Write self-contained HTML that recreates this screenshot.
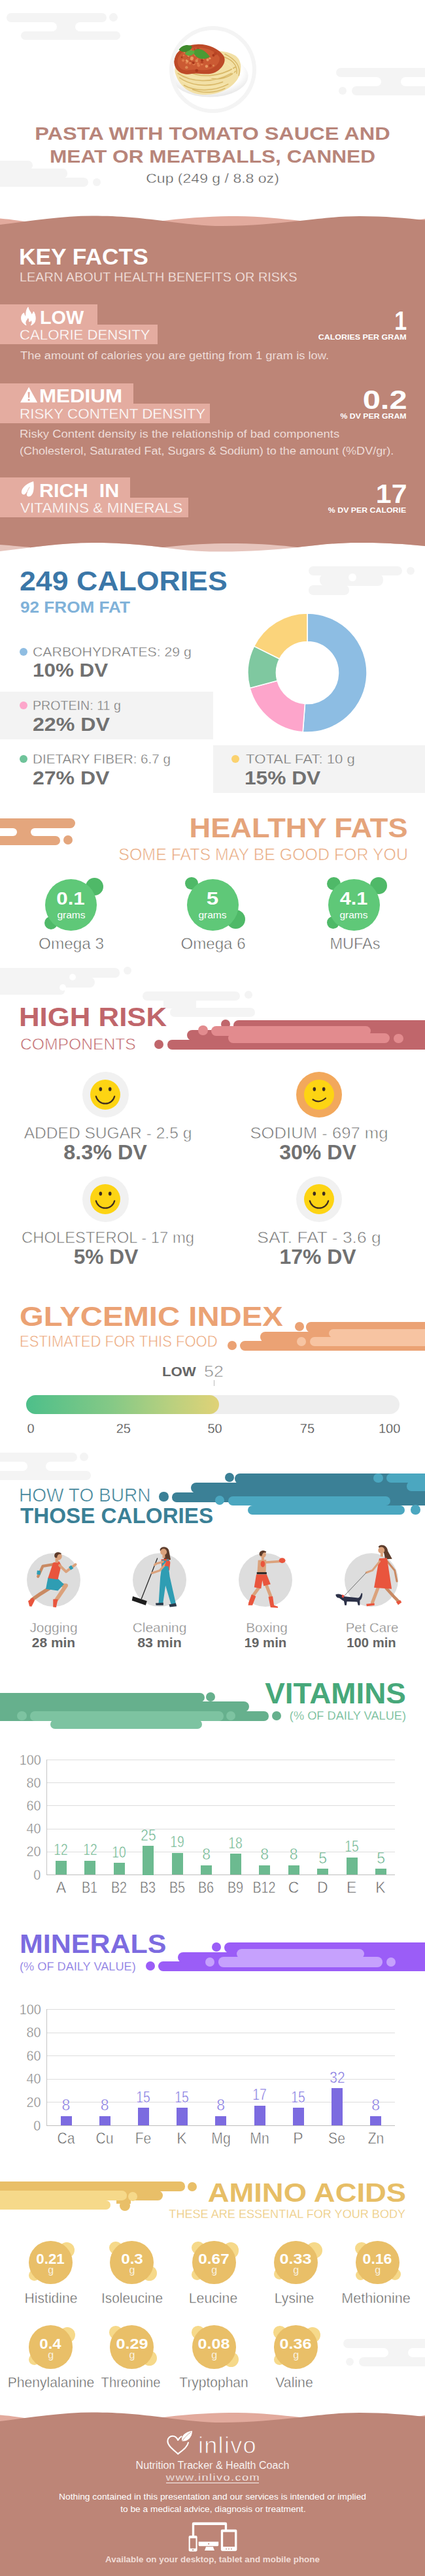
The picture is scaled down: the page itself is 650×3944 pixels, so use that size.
<!DOCTYPE html>
<html lang="en"><head><meta charset="utf-8"><title>Pasta with tomato sauce and meat or meatballs, canned</title>
<style>
html,body{margin:0;padding:0;background:#fff;}
body{width:650px;height:3944px;position:relative;overflow:hidden;font-family:"Liberation Sans",sans-serif;}
.t{position:absolute;white-space:pre;line-height:1;}
.b{position:absolute;display:block;}
svg{overflow:visible;}
</style></head><body>
<div class="b" style="left:10px;top:19.7px;width:153px;height:14px;background:#f4f4f4;border-radius:7px;"></div>
<div class="b" style="left:166.5px;top:19.7px;width:13.0px;height:13.0px;background:#f4f4f4;border-radius:50%;"></div>
<div class="b" style="left:32px;top:47.7px;width:152px;height:13.5px;background:#f4f4f4;border-radius:6.7px;"></div>
<div class="b" style="left:80px;top:29.7px;width:42px;height:22px;background:#f4f4f4;border-radius:0px;"></div>
<div class="b" style="left:0px;top:33.7px;width:87px;height:14px;background:#fff;border-radius:7px;"></div>
<div class="b" style="left:115px;top:33.7px;width:90px;height:14px;background:#fff;border-radius:7px;"></div>
<div class="b" style="left:514px;top:104px;width:150px;height:14px;background:#f4f4f4;border-radius:7px;"></div>
<div class="b" style="left:538px;top:132px;width:130px;height:14px;background:#f4f4f4;border-radius:7px;"></div>
<div class="b" style="left:576px;top:112px;width:44px;height:26px;background:#f4f4f4;border-radius:0px;"></div>
<div class="b" style="left:500px;top:118px;width:83px;height:14px;background:#fff;border-radius:7px;"></div>
<div class="b" style="left:613px;top:118px;width:60px;height:14px;background:#fff;border-radius:7px;"></div>
<div class="b" style="left:518px;top:133px;width:12px;height:12px;background:#f4f4f4;border-radius:50%;"></div>
<div class="b" style="left:-10px;top:246px;width:60px;height:14px;background:#f4f4f4;border-radius:7px;"></div>
<div class="b" style="left:-10px;top:258px;width:113px;height:15px;background:#f4f4f4;border-radius:7px;"></div>
<div class="b" style="left:-10px;top:272px;width:145px;height:14px;background:#f4f4f4;border-radius:7px;"></div>
<div class="b" style="left:142px;top:273px;width:12px;height:12px;background:#f4f4f4;border-radius:50%;"></div>
<div class="b" style="left:258.5px;top:39.8px;width:133.0px;height:133.0px;background:#f4f4f4;border-radius:50%;"></div>
<div class="b" style="left:264.5px;top:45.8px;width:121.0px;height:121.0px;background:#ffffff;border-radius:50%;"></div>
<svg class="b" style="left:255px;top:30px;" width="140" height="145" viewBox="0 0 425 440">
<defs><clipPath id="pc"><circle cx="212.500" cy="231" r="183"/></clipPath>
<radialGradient id="pl" cx="50%" cy="40%" r="60%"><stop offset="70%" stop-color="#ffffff"/><stop offset="100%" stop-color="#e6e6e6"/></radialGradient></defs>
<g clip-path="url(#pc)">
<ellipse cx="200" cy="262" rx="178" ry="98" fill="url(#pl)"/>
<path d="M40 250 C30 215 60 175 110 160 C170 140 260 135 315 165 C350 185 352 235 330 275 C300 325 230 355 160 348 C95 342 55 300 40 250Z" fill="#f2e0a6"/>
<path d="M60 270 C100 300 180 320 260 290 M52 250 C110 290 210 300 300 250 M80 305 C130 335 220 335 285 300 M100 240 C150 270 240 270 320 220 M250 170 C300 180 330 210 325 250 M270 160 C320 185 345 215 335 260 M120 325 C170 345 230 340 270 320 M200 270 C240 285 290 270 320 240" stroke="#d8b766" stroke-width="4.500" fill="none" stroke-linecap="round"/>
<path d="M70 285 C120 315 200 325 270 300 M60 240 C120 285 220 285 310 235 M230 185 C280 195 315 220 310 255" stroke="#f7e6ad" stroke-width="4" fill="none" stroke-linecap="round"/>
<path d="M34 195 C36 150 80 118 140 115 C190 112 240 135 262 165 C280 190 262 225 225 245 C190 262 150 245 115 252 C80 260 36 245 34 195Z" fill="#bd4a28"/>
<path d="M50 190 C55 155 95 130 140 130 C185 128 230 150 245 175 C250 200 225 225 195 232 C160 240 130 228 100 235 C70 240 48 220 50 190Z" fill="#cb5a33"/>
<circle cx="113" cy="143" r="3.8" fill="#e07a4a"/><circle cx="158" cy="169" r="7.1" fill="#e07a4a"/><circle cx="133" cy="154" r="5.2" fill="#e89a62"/><circle cx="92" cy="200" r="5.8" fill="#e07a4a"/><circle cx="106" cy="142" r="5.8" fill="#e07a4a"/><circle cx="163" cy="207" r="5.8" fill="#e07a4a"/><circle cx="179" cy="170" r="6.3" fill="#e89a62"/><circle cx="164" cy="199" r="6.2" fill="#b84424"/><circle cx="135" cy="163" r="7.2" fill="#e89a62"/><circle cx="121" cy="155" r="6.3" fill="#dd8a55"/><circle cx="96" cy="194" r="5.5" fill="#e89a62"/><circle cx="117" cy="179" r="7.4" fill="#e89a62"/><circle cx="70" cy="175" r="4.1" fill="#a8381c"/><circle cx="185" cy="217" r="6.7" fill="#e89a62"/><circle cx="217" cy="166" r="5.9" fill="#a8381c"/><circle cx="167" cy="180" r="7.3" fill="#e07a4a"/><circle cx="145" cy="205" r="6.4" fill="#e07a4a"/><circle cx="110" cy="194" r="4.6" fill="#b84424"/><circle cx="126" cy="205" r="7.3" fill="#e07a4a"/><circle cx="120" cy="198" r="3.7" fill="#b84424"/><circle cx="97" cy="172" r="3.8" fill="#b84424"/><circle cx="139" cy="191" r="6.8" fill="#dd8a55"/><circle cx="226" cy="158" r="7.4" fill="#b84424"/><circle cx="188" cy="171" r="4.1" fill="#dd8a55"/><circle cx="82" cy="153" r="3.5" fill="#dd8a55"/><circle cx="104" cy="142" r="5.0" fill="#e89a62"/><circle cx="190" cy="187" r="6.1" fill="#e89a62"/><circle cx="200" cy="180" r="5.1" fill="#e89a62"/><circle cx="129" cy="137" r="3.7" fill="#b84424"/><circle cx="79" cy="166" r="3.9" fill="#e07a4a"/><circle cx="164" cy="189" r="6.0" fill="#a8381c"/><circle cx="124" cy="201" r="5.9" fill="#a8381c"/><circle cx="145" cy="139" r="7.5" fill="#b84424"/><circle cx="143" cy="183" r="4.1" fill="#e07a4a"/><circle cx="202" cy="214" r="6.8" fill="#b84424"/><circle cx="76" cy="190" r="6.5" fill="#e07a4a"/><circle cx="108" cy="202" r="6.3" fill="#e07a4a"/><circle cx="100" cy="169" r="4.9" fill="#dd8a55"/><circle cx="92" cy="190" r="4.8" fill="#e89a62"/><circle cx="92" cy="222" r="6.7" fill="#dd8a55"/><circle cx="217" cy="214" r="4.3" fill="#dd8a55"/><circle cx="148" cy="213" r="6.7" fill="#e07a4a"/><circle cx="144" cy="148" r="7.3" fill="#e89a62"/><circle cx="139" cy="237" r="7.3" fill="#a8381c"/><circle cx="122" cy="151" r="5.4" fill="#dd8a55"/><circle cx="116" cy="183" r="6.9" fill="#e89a62"/>
<path d="M56 140 C70 118 100 112 118 125 C112 150 82 160 56 140Z" fill="#3f8a2c"/>
<path d="M122 150 C135 128 170 130 200 172 C175 190 135 185 122 150Z" fill="#4a9a34"/>
<path d="M84 158 C95 142 115 138 130 148 C125 168 100 176 84 158Z" fill="#5aab40"/>
</g></svg>
<div class="t" style="font-size:27.4px;color:#b8857a;font-weight:700;left:324.63px;top:205px;transform:translate(-50%,-50%) scaleX(1.1862);">PASTA WITH TOMATO SAUCE AND</div>
<div class="t" style="font-size:27.4px;color:#b8857a;font-weight:700;left:324.61px;top:239.6px;transform:translate(-50%,-50%) scaleX(1.1555);">MEAT OR MEATBALLS, CANNED</div>
<div class="t" style="font-size:20.5px;color:#585858;-webkit-text-stroke:0.41px #fff;left:325.16px;top:273.3px;transform:translate(-50%,-50%) scaleX(1.1238);">Cup (249 g / 8.8 oz)</div>
<svg class="b" style="left:0px;top:320px;" width="650" height="50" viewBox="0 320 650 50">
<path d="M0 334.5 C20 336 35 339 46 340 C80 344 120 347 160 347 C200 347 225 341 249 338 C290 333 330 331 363 331 C400 331 430 335 459 338 C500 343 540 347 580 346 C610 344 630 338 650 335 L650 370 L0 370Z" fill="#e2aa9d"/>
<path d="M0 344 C50 338 95 330.5 141 330.5 C185 330.5 215 334 249 338 C280 342 310 346 340 346 C385 346 420 342 459 338 C495 334 520 331 550 331 C590 331 620 334 650 337 L650 370 L0 370Z" fill="#bd8577"/>
</svg>
<div class="b" style="left:0px;top:369px;width:650px;height:432px;background:#bd8577;border-radius:0px;"></div>
<svg class="b" style="left:0px;top:800px;" width="650" height="50" viewBox="0 800 650 50">
<defs><clipPath id="wb0"><path d="M0 800 L650 800 L650 836 C620 833 590 831 547 831 C515 831 490 834 455 838 C420 842 380 844.5 340 844.5 C300 844.5 280 842 249 838 C215 834 185 831 141 831 C95 831 50 838 0 844Z"/></clipPath></defs>
<g clip-path="url(#wb0)"><rect x="0" y="800" width="650" height="50" fill="#e6c4bc"/>
<path d="M0 800 L0 834 C20 835.5 35 837 46 838 L46 860 L249 860 L249 838 C290 833 330 831.5 363 832 C400 832.500 430 835 455 838 L455 860 L650 860 L650 800Z" fill="#bd8577"/></g>
</svg>
<div class="t" style="font-size:34.6px;color:#fff;font-weight:700;left:29.20px;top:392.6px;transform-origin:0 50%;transform:translateY(-50%) scaleX(1.0224);">KEY FACTS</div>
<div class="t" style="font-size:19.5px;color:#f6e8e4;-webkit-text-stroke:0.30px #bd8577;left:29.91px;top:424.5px;transform-origin:0 50%;transform:translateY(-50%) scaleX(1.0194);">LEARN ABOUT HEALTH BENEFITS OR RISKS</div>
<div class="b" style="left:0px;top:466.3px;width:148.5px;height:31px;background:#e4aca0;border-radius:0px;"></div>
<div class="b" style="left:0px;top:496.8px;width:241px;height:30px;background:#e4aca0;border-radius:0px;"></div>
<svg class="b" style="left:26.3px;top:465px" width="60" height="36" viewBox="0 0 425 255"><path d="M100 233 C60 215 40 175 48 140 C52 120 62 108 75 100 C78 120 85 135 98 140 C95 100 100 65 120 38 C125 70 150 90 160 120 C168 110 175 98 180 85 C200 120 205 160 195 190 C188 212 170 228 150 233 C165 215 168 195 155 178 C150 190 140 195 130 192 C135 175 130 160 118 150 C112 170 95 180 92 200 C90 215 95 225 100 233Z" fill="#fff" stroke="#fff" stroke-width="7" stroke-linejoin="round"/></svg>
<div class="t" style="font-size:28.6px;color:#fff;font-weight:700;left:61.02px;top:485.6px;transform-origin:0 50%;transform:translateY(-50%) scaleX(1.0089);">LOW</div>
<div class="t" style="font-size:21.5px;color:#fff;-webkit-text-stroke:0.35px #e4aca0;left:30.39px;top:514.1px;transform-origin:0 50%;transform:translateY(-50%) scaleX(1.0313);">CALORIE DENSITY</div>
<div class="t" style="font-size:40px;color:#fff;font-weight:700;right:28.11px;top:491.0px;transform-origin:100% 50%;transform:translateY(-50%) scaleX(0.8511);">1</div>
<div class="t" style="font-size:11.5px;color:#fff;font-weight:700;right:28.14px;top:517.0px;transform-origin:100% 50%;transform:translateY(-50%) scaleX(1.0832);">CALORIES PER GRAM</div>
<div class="t" style="font-size:16px;color:#f5e6e2;-webkit-text-stroke:0.17px #bd8577;left:31.13px;top:545.3px;transform-origin:0 50%;transform:translateY(-50%) scaleX(1.1466);">The amount of calories you are getting from 1 gram is low.</div>
<div class="b" style="left:0px;top:587px;width:204.2px;height:31px;background:#e4aca0;border-radius:0px;"></div>
<div class="b" style="left:0px;top:617.5px;width:321px;height:30px;background:#e4aca0;border-radius:0px;"></div>
<svg class="b" style="left:30.6px;top:591.6px" width="26.2" height="24.8" viewBox="0 0 51 46"><path d="M25.500 0 L51 46 L0 46Z M22.500 15 L28.500 15 L27.500 32 L23.500 32Z M22.800 35.500 L28.200 35.500 L28.200 41 L22.800 41Z" fill="#fff" fill-rule="evenodd"/></svg>
<div class="t" style="font-size:28.6px;color:#fff;font-weight:700;left:60.36px;top:606.3px;transform-origin:0 50%;transform:translateY(-50%) scaleX(1.0953);">MEDIUM</div>
<div class="t" style="font-size:21.5px;color:#fff;-webkit-text-stroke:0.35px #e4aca0;left:29.71px;top:634.8px;transform-origin:0 50%;transform:translateY(-50%) scaleX(1.0422);">RISKY CONTENT DENSITY</div>
<div class="t" style="font-size:40px;color:#fff;font-weight:700;right:27.04px;top:611.7px;transform-origin:100% 50%;transform:translateY(-50%) scaleX(1.2214);">0.2</div>
<div class="t" style="font-size:11.5px;color:#fff;font-weight:700;right:28.16px;top:637.7px;transform-origin:100% 50%;transform:translateY(-50%) scaleX(1.0696);">% DV PER GRAM</div>
<div class="t" style="font-size:16px;color:#f5e6e2;-webkit-text-stroke:0.17px #bd8577;left:30.02px;top:665px;transform-origin:0 50%;transform:translateY(-50%) scaleX(1.1529);">Risky Content density is the relationship of bad components</div>
<div class="t" style="font-size:16px;color:#f5e6e2;-webkit-text-stroke:0.17px #bd8577;left:30.42px;top:690.5px;transform-origin:0 50%;transform:translateY(-50%) scaleX(1.1269);">(Cholesterol, Saturated Fat, Sugars &amp; Sodium) to the amount (%DV/gr).</div>
<div class="b" style="left:0px;top:731.4px;width:198.7px;height:31px;background:#e4aca0;border-radius:0px;"></div>
<div class="b" style="left:0px;top:761.9px;width:288px;height:30px;background:#e4aca0;border-radius:0px;"></div>
<svg class="b" style="left:25px;top:732px" width="60" height="36" viewBox="0 0 425 255"><path d="M185 36 C130 50 70 90 57 140 C52 165 65 182 85 178 C95 176 102 167 108 152 L113 152 C108 172 110 192 125 198 C150 206 175 186 185 140 C192 105 190 70 185 36Z" fill="#fff"/><path d="M107 190 C112 160 122 130 142 100" stroke="#e4aca0" stroke-width="6" fill="none" stroke-linecap="round"/></svg>
<div class="t" style="font-size:28.6px;color:#fff;font-weight:700;left:60.21px;top:750.6999999999999px;transform-origin:0 50%;transform:translateY(-50%) scaleX(1.0688);">RICH  IN</div>
<div class="t" style="font-size:21.5px;color:#fff;-webkit-text-stroke:0.35px #e4aca0;left:31.39px;top:779.1999999999999px;transform-origin:0 50%;transform:translateY(-50%) scaleX(1.0511);">VITAMINS &amp; MINERALS</div>
<div class="t" style="font-size:40px;color:#fff;font-weight:700;right:27.18px;top:756.1px;transform-origin:100% 50%;transform:translateY(-50%) scaleX(1.0718);">17</div>
<div class="t" style="font-size:11.5px;color:#fff;font-weight:700;right:28.53px;top:782.1px;transform-origin:100% 50%;transform:translateY(-50%) scaleX(1.0737);">% DV PER CALORIE</div>
<div class="b" style="left:472px;top:867px;width:143px;height:14px;background:#f4f4f4;border-radius:7px;"></div>
<div class="b" style="left:622px;top:868px;width:12px;height:12px;background:#f4f4f4;border-radius:50%;"></div>
<div class="b" style="left:489px;top:879px;width:97px;height:18px;background:#f4f4f4;border-radius:8px;"></div>
<div class="b" style="left:472px;top:896px;width:62px;height:15px;background:#f4f4f4;border-radius:7px;"></div>
<div class="b" style="left:533px;top:878px;width:12px;height:12px;background:#fff;border-radius:50%;"></div>
<div class="t" style="font-size:42.4px;color:#3b77a8;font-weight:700;left:29.94px;top:889.8px;transform-origin:0 50%;transform:translateY(-50%) scaleX(1.0536);">249 CALORIES</div>
<div class="t" style="font-size:23.6px;color:#80b2d9;font-weight:700;left:30.58px;top:930.5px;transform-origin:0 50%;transform:translateY(-50%) scaleX(1.1078);">92 FROM FAT</div>
<div class="b" style="left:0px;top:1059px;width:326px;height:73px;background:#f3f3f3;border-radius:0px;"></div>
<div class="b" style="left:325.5px;top:1141.4px;width:325px;height:73px;background:#f3f3f3;border-radius:0px;"></div>
<div class="b" style="left:29.5px;top:991.5px;width:12px;height:12px;background:#8fbde2;border-radius:50%;"></div>
<div class="t" style="font-size:20.5px;color:#747474;-webkit-text-stroke:0.41px #fff;left:50.44px;top:997.5px;transform-origin:0 50%;transform:translateY(-50%) scaleX(1.0368);">CARBOHYDRATES: 29 g</div>
<div class="t" style="font-size:29.5px;color:#717171;font-weight:700;left:49.62px;top:1026.3px;transform-origin:0 50%;transform:translateY(-50%) scaleX(1.0640);">10% DV</div>
<div class="b" style="left:29.5px;top:1074px;width:12px;height:12px;background:#fda6cb;border-radius:50%;"></div>
<div class="t" style="font-size:20.5px;color:#747474;-webkit-text-stroke:0.41px #f3f3f3;left:49.93px;top:1080px;transform-origin:0 50%;transform:translateY(-50%) scaleX(0.9575);">PROTEIN: 11 g</div>
<div class="t" style="font-size:29.5px;color:#717171;font-weight:700;left:50.38px;top:1108.8px;transform-origin:0 50%;transform:translateY(-50%) scaleX(1.0894);">22% DV</div>
<div class="b" style="left:29.5px;top:1156px;width:12px;height:12px;background:#6fc39a;border-radius:50%;"></div>
<div class="t" style="font-size:20.5px;color:#747474;-webkit-text-stroke:0.41px #fff;left:49.85px;top:1162px;transform-origin:0 50%;transform:translateY(-50%) scaleX(1.0066);">DIETARY FIBER: 6.7 g</div>
<div class="t" style="font-size:29.5px;color:#717171;font-weight:700;left:50.38px;top:1190.8px;transform-origin:0 50%;transform:translateY(-50%) scaleX(1.0847);">27% DV</div>
<div class="b" style="left:354px;top:1156px;width:12px;height:12px;background:#fbd26f;border-radius:50%;"></div>
<div class="t" style="font-size:20.5px;color:#747474;-webkit-text-stroke:0.41px #f3f3f3;left:375.56px;top:1162px;transform-origin:0 50%;transform:translateY(-50%) scaleX(1.0826);">TOTAL FAT: 10 g</div>
<div class="t" style="font-size:29.5px;color:#717171;font-weight:700;left:374.10px;top:1190.8px;transform-origin:0 50%;transform:translateY(-50%) scaleX(1.0734);">15% DV</div>
<svg class="b" style="left:370.2px;top:930px;" width="200" height="200" viewBox="0 0 200 200"><path d="M100.00 9.00 A91 91 0 1 1 93.18 190.74 L96.44 147.37 A47.5 47.5 0 1 0 100.00 52.50Z" fill="#8dbde3" stroke="#fff" stroke-width="1.6" stroke-linejoin="round"/><path d="M93.18 190.74 A91 91 0 0 1 12.10 123.55 L54.12 112.29 A47.5 47.5 0 0 0 96.44 147.37Z" fill="#fda5cb" stroke="#fff" stroke-width="1.6" stroke-linejoin="round"/><path d="M12.10 123.55 A91 91 0 0 1 18.56 59.40 L57.49 78.81 A47.5 47.5 0 0 0 54.12 112.29Z" fill="#7fc8a0" stroke="#fff" stroke-width="1.6" stroke-linejoin="round"/><path d="M18.56 59.40 A91 91 0 0 1 100.00 9.00 L100.00 52.50 A47.5 47.5 0 0 0 57.49 78.81Z" fill="#fbd47b" stroke="#fff" stroke-width="1.6" stroke-linejoin="round"/></svg>
<div class="b" style="left:-10px;top:1253px;width:125px;height:15px;background:#e4a67d;border-radius:7.5px;"></div>
<div class="b" style="left:-10px;top:1279.5px;width:102px;height:14.5px;background:#e4a67d;border-radius:7.3px;"></div>
<div class="b" style="left:18px;top:1260px;width:36px;height:26px;background:#e4a67d;border-radius:0px;"></div>
<div class="b" style="left:-10px;top:1268px;width:36px;height:11.7px;background:#fff;border-radius:6px;"></div>
<div class="b" style="left:47px;top:1268px;width:100px;height:11.7px;background:#fff;border-radius:6px;"></div>
<div class="b" style="left:96.5px;top:1279px;width:14px;height:14px;background:#e4a67d;border-radius:50%;"></div>
<div class="t" style="font-size:41.9px;color:#e5a47b;font-weight:700;right:26.22px;top:1267.7px;transform-origin:100% 50%;transform:translateY(-50%) scaleX(1.0791);">HEALTHY FATS</div>
<div class="t" style="font-size:25.5px;color:#e8a77c;-webkit-text-stroke:0.62px #fff;right:26.07px;top:1308.7px;transform-origin:100% 50%;transform:translateY(-50%) scaleX(0.9771);">SOME FATS MAY BE GOOD FOR YOU</div>
<div class="b" style="left:131.0px;top:1343.6px;width:27.4px;height:27.4px;background:#4fb968;border-radius:50%;"></div>
<div class="b" style="left:68.2px;top:1402.8px;width:20px;height:20px;background:#4fb968;border-radius:50%;"></div>
<div class="b" style="left:69.2px;top:1345.5px;width:79.0px;height:79.0px;background:#5fc878;border-radius:50%;"></div>
<div class="t" style="font-size:28px;color:#fff;font-weight:700;left:108.47px;top:1376.3px;transform:translate(-50%,-50%) scaleX(1.1159);">0.1</div>
<div class="t" style="font-size:14.5px;color:#fff;left:108.65px;top:1400.5px;transform:translate(-50%,-50%) scaleX(1.0708);">grams</div>
<div class="t" style="font-size:23.5px;color:#616161;-webkit-text-stroke:0.58px #fff;left:109.08px;top:1445.5px;transform:translate(-50%,-50%) scaleX(1.0340);">Omega 3</div>
<div class="b" style="left:283.2px;top:1342.8px;width:19.6px;height:19.6px;background:#4fb968;border-radius:50%;"></div>
<div class="b" style="left:346.1px;top:1393.2px;width:29.0px;height:29.0px;background:#4fb968;border-radius:50%;"></div>
<div class="b" style="left:285.5px;top:1345.5px;width:79.0px;height:79.0px;background:#5fc878;border-radius:50%;"></div>
<div class="t" style="font-size:28px;color:#fff;font-weight:700;left:324.94px;top:1376.3px;transform:translate(-50%,-50%) scaleX(1.1857);">5</div>
<div class="t" style="font-size:14.5px;color:#fff;left:324.95px;top:1400.5px;transform:translate(-50%,-50%) scaleX(1.0708);">grams</div>
<div class="t" style="font-size:23.5px;color:#616161;-webkit-text-stroke:0.58px #fff;left:325.68px;top:1445.5px;transform:translate(-50%,-50%) scaleX(1.0255);">Omega 6</div>
<div class="b" style="left:500.3px;top:1343.0px;width:20.4px;height:20.4px;background:#4fb968;border-radius:50%;"></div>
<div class="b" style="left:566.2px;top:1343px;width:26px;height:26px;background:#4fb968;border-radius:50%;"></div>
<div class="b" style="left:500.0px;top:1403.3px;width:19.0px;height:19.0px;background:#4fb968;border-radius:50%;"></div>
<div class="b" style="left:501.5px;top:1345.5px;width:79.0px;height:79.0px;background:#5fc878;border-radius:50%;"></div>
<div class="t" style="font-size:28px;color:#fff;font-weight:700;left:541.16px;top:1376.3px;transform:translate(-50%,-50%) scaleX(1.0952);">4.1</div>
<div class="t" style="font-size:14.5px;color:#fff;left:540.95px;top:1400.5px;transform:translate(-50%,-50%) scaleX(1.0708);">grams</div>
<div class="t" style="font-size:23.5px;color:#616161;-webkit-text-stroke:0.58px #fff;left:543.25px;top:1445.5px;transform:translate(-50%,-50%) scaleX(1.0016);">MUFAs</div>
<div class="b" style="left:-10px;top:1482px;width:193px;height:15px;background:#f4f4f4;border-radius:7px;"></div>
<div class="b" style="left:189px;top:1480px;width:12px;height:12px;background:#f4f4f4;border-radius:50%;"></div>
<div class="b" style="left:-10px;top:1496px;width:155px;height:16px;background:#f4f4f4;border-radius:8px;"></div>
<div class="b" style="left:-10px;top:1510px;width:109px;height:13px;background:#f4f4f4;border-radius:6px;"></div>
<div class="b" style="left:106px;top:1491px;width:10px;height:10px;background:#fff;border-radius:50%;"></div>
<div class="b" style="left:91px;top:1507px;width:10px;height:10px;background:#fff;border-radius:50%;"></div>
<div class="b" style="left:218px;top:1518px;width:149px;height:14px;background:#f4f4f4;border-radius:7px;"></div>
<div class="b" style="left:374px;top:1517px;width:12px;height:12px;background:#f4f4f4;border-radius:50%;"></div>
<div class="b" style="left:250px;top:1530px;width:50px;height:14px;background:#f4f4f4;border-radius:0px;"></div>
<div class="b" style="left:260px;top:1543px;width:130px;height:14px;background:#f4f4f4;border-radius:7px;"></div>
<div class="t" style="font-size:41.4px;color:#c0666b;font-weight:700;left:28.95px;top:1558.3px;transform-origin:0 50%;transform:translateY(-50%) scaleX(1.0573);">HIGH RISK</div>
<div class="t" style="font-size:23px;color:#c0666b;-webkit-text-stroke:0.55px #fff;left:30.57px;top:1599.3px;transform-origin:0 50%;transform:translateY(-50%) scaleX(1.0719);">COMPONENTS</div>
<div class="b" style="left:236.10000000000002px;top:1592.0px;width:14.4px;height:14.4px;background:#c0666b;border-radius:50%;"></div>
<div class="b" style="left:256px;top:1592.2px;width:400px;height:14.4px;background:#c0666b;border-radius:7.2px;"></div>
<div class="b" style="left:286px;top:1577px;width:400px;height:16px;background:#c0666b;border-radius:8px;"></div>
<div class="b" style="left:357px;top:1562px;width:300px;height:17px;background:#c0666b;border-radius:8px;"></div>
<div class="b" style="left:338.3px;top:1560.6px;width:14px;height:14px;background:#c0666b;border-radius:50%;"></div>
<div class="b" style="left:303.40000000000003px;top:1570.3999999999999px;width:14.4px;height:14.4px;background:#e28b8e;border-radius:50%;"></div>
<div class="b" style="left:322.5px;top:1571px;width:244.5px;height:15.4px;background:#e28b8e;border-radius:7.7px;"></div>
<div class="b" style="left:349px;top:1582px;width:246.6px;height:15px;background:#e28b8e;border-radius:7.5px;"></div>
<div class="b" style="left:356px;top:1578px;width:200px;height:10px;background:#e28b8e;border-radius:0px;"></div>
<div class="b" style="left:602.4px;top:1582.8px;width:14.4px;height:14.4px;background:#e28b8e;border-radius:50%;"></div>
<div class="b" style="left:126.00000000000001px;top:1640.7px;width:70.6px;height:70.6px;background:#f1f1f1;border-radius:50%;"></div>
<div class="b" style="left:138.3px;top:1653px;width:46px;height:46px;background:#fdd413;border-radius:50%;"></div>
<svg class="b" style="left:138.3px;top:1653px;" width="46" height="46" viewBox="0 0 46 46">
<ellipse cx="15.800" cy="14.500" rx="2.300" ry="3.100" fill="#3e2c20"/><ellipse cx="30.200" cy="14.500" rx="2.300" ry="3.100" fill="#3e2c20"/><path d="M8.800 25.500 A14.600 14.600 0 0 0 37.200 25.500" stroke="#3e2c20" stroke-width="2.200" fill="none" stroke-linecap="round"/></svg>
<div class="t" style="font-size:24.5px;color:#717171;-webkit-text-stroke:0.62px #fff;left:165.13px;top:1735.3px;transform:translate(-50%,-50%) scaleX(1.0027);">ADDED SUGAR - 2.5 g</div>
<div class="t" style="font-size:30.5px;color:#717171;font-weight:700;left:161.32px;top:1764px;transform:translate(-50%,-50%) scaleX(1.0608);">8.3% DV</div>
<div class="b" style="left:452.9px;top:1640.7px;width:70.6px;height:70.6px;background:#f2a85c;border-radius:50%;"></div>
<div class="b" style="left:465.2px;top:1653px;width:46px;height:46px;background:#fdd413;border-radius:50%;"></div>
<svg class="b" style="left:465.2px;top:1653px;" width="46" height="46" viewBox="0 0 46 46">
<ellipse cx="15.800" cy="14.500" rx="2.300" ry="3.100" fill="#3e2c20"/><ellipse cx="30.200" cy="14.500" rx="2.300" ry="3.100" fill="#3e2c20"/><path d="M13.5 30.500 Q23 37 33 28.500" stroke="#3e2c20" stroke-width="2.200" fill="none" stroke-linecap="round"/></svg>
<div class="t" style="font-size:24.5px;color:#717171;-webkit-text-stroke:0.62px #fff;left:488.15px;top:1735.3px;transform:translate(-50%,-50%) scaleX(1.0472);">SODIUM - 697 mg</div>
<div class="t" style="font-size:30.5px;color:#717171;font-weight:700;left:486.24px;top:1764px;transform:translate(-50%,-50%) scaleX(1.0508);">30% DV</div>
<div class="b" style="left:126.00000000000001px;top:1800.7px;width:70.6px;height:70.6px;background:#f1f1f1;border-radius:50%;"></div>
<div class="b" style="left:138.3px;top:1813px;width:46px;height:46px;background:#fdd413;border-radius:50%;"></div>
<svg class="b" style="left:138.3px;top:1813px;" width="46" height="46" viewBox="0 0 46 46">
<ellipse cx="15.800" cy="14.500" rx="2.300" ry="3.100" fill="#3e2c20"/><ellipse cx="30.200" cy="14.500" rx="2.300" ry="3.100" fill="#3e2c20"/><path d="M8.800 25.500 A14.600 14.600 0 0 0 37.200 25.500" stroke="#3e2c20" stroke-width="2.200" fill="none" stroke-linecap="round"/></svg>
<div class="t" style="font-size:24.5px;color:#717171;-webkit-text-stroke:0.62px #fff;left:164.91px;top:1895.3px;transform:translate(-50%,-50%) scaleX(0.9727);">CHOLESTEROL - 17 mg</div>
<div class="t" style="font-size:30.5px;color:#717171;font-weight:700;left:161.54px;top:1924px;transform:translate(-50%,-50%) scaleX(1.0385);">5% DV</div>
<div class="b" style="left:452.9px;top:1800.7px;width:70.6px;height:70.6px;background:#f1f1f1;border-radius:50%;"></div>
<div class="b" style="left:465.2px;top:1813px;width:46px;height:46px;background:#fdd413;border-radius:50%;"></div>
<svg class="b" style="left:465.2px;top:1813px;" width="46" height="46" viewBox="0 0 46 46">
<ellipse cx="15.800" cy="14.500" rx="2.300" ry="3.100" fill="#3e2c20"/><ellipse cx="30.200" cy="14.500" rx="2.300" ry="3.100" fill="#3e2c20"/><path d="M8.800 25.500 A14.600 14.600 0 0 0 37.200 25.500" stroke="#3e2c20" stroke-width="2.200" fill="none" stroke-linecap="round"/></svg>
<div class="t" style="font-size:24.5px;color:#717171;-webkit-text-stroke:0.62px #fff;left:488.46px;top:1895.3px;transform:translate(-50%,-50%) scaleX(1.0776);">SAT. FAT - 3.6 g</div>
<div class="t" style="font-size:30.5px;color:#717171;font-weight:700;left:486.38px;top:1924px;transform:translate(-50%,-50%) scaleX(1.0474);">17% DV</div>
<div class="t" style="font-size:43.3px;color:#eba274;font-weight:700;left:30.01px;top:2016px;transform-origin:0 50%;transform:translateY(-50%) scaleX(1.0917);">GLYCEMIC INDEX</div>
<div class="t" style="font-size:23.4px;color:#eba274;-webkit-text-stroke:0.57px #fff;left:30.14px;top:2055.2px;transform-origin:0 50%;transform:translateY(-50%) scaleX(0.9416);">ESTIMATED FOR THIS FOOD</div>
<div class="b" style="left:348.1px;top:2052.7px;width:14px;height:14px;background:#eba274;border-radius:50%;"></div>
<div class="b" style="left:367.1px;top:2053.3px;width:300px;height:15.1px;background:#eba274;border-radius:7.5px;"></div>
<div class="b" style="left:398.4px;top:2039px;width:300px;height:15.5px;background:#eba274;border-radius:7.7px;"></div>
<div class="b" style="left:468px;top:2024.3px;width:300px;height:15.5px;background:#eba274;border-radius:7.5px;"></div>
<div class="b" style="left:450.6px;top:2023.5px;width:14.4px;height:14.4px;background:#eba274;border-radius:50%;"></div>
<div class="b" style="left:453.5px;top:2046.5px;width:14px;height:14px;background:#f7c4a2;border-radius:50%;"></div>
<div class="b" style="left:473.7px;top:2046.5px;width:200px;height:14.8px;background:#f7c4a2;border-radius:7.4px;"></div>
<div class="b" style="left:503.2px;top:2034.5px;width:200px;height:13.5px;background:#f7c4a2;border-radius:6.7px;"></div>
<div class="t" style="font-size:20.5px;color:#666;font-weight:700;right:350.56px;top:2099.5px;transform-origin:100% 50%;transform:translateY(-50%) scaleX(1.0852);">LOW</div>
<div class="t" style="font-size:23px;color:#8a8a8a;-webkit-text-stroke:0.55px #fff;left:311.92px;top:2099.5px;transform-origin:0 50%;transform:translateY(-50%) scaleX(1.1722);">52</div>
<div class="b" style="left:326.5px;top:2112.5px;width:1px;height:9.5px;background:#bbb;border-radius:0px;"></div>
<div class="b" style="left:40px;top:2135.7px;width:571px;height:29.8px;background:#eeeeee;border-radius:15px;"></div>
<div class="b" style="left:40px;top:2135.7px;width:295px;height:29.8px;background:;border-radius:15px;background:linear-gradient(90deg,#4dbf8a 0%,#86c986 45%,#b9d07f 75%,#e0d277 100%);"></div>
<div class="t" style="font-size:20px;color:#4a4a4a;-webkit-text-stroke:0.30px #fff;left:47.16px;top:2186.5px;transform:translate(-50%,-50%) scaleX(1.0000);">0</div>
<div class="t" style="font-size:20px;color:#4a4a4a;-webkit-text-stroke:0.30px #fff;left:188.82px;top:2186.5px;transform:translate(-50%,-50%) scaleX(1.0000);">25</div>
<div class="t" style="font-size:20px;color:#4a4a4a;-webkit-text-stroke:0.30px #fff;left:328.57px;top:2186.5px;transform:translate(-50%,-50%) scaleX(1.0000);">50</div>
<div class="t" style="font-size:20px;color:#4a4a4a;-webkit-text-stroke:0.30px #fff;left:469.92px;top:2186.5px;transform:translate(-50%,-50%) scaleX(1.0000);">75</div>
<div class="t" style="font-size:20px;color:#4a4a4a;-webkit-text-stroke:0.30px #fff;left:595.64px;top:2186.5px;transform:translate(-50%,-50%) scaleX(1.0000);">100</div>
<div class="b" style="left:-35px;top:2224px;width:153px;height:14px;background:#f4f4f4;border-radius:7px;"></div>
<div class="b" style="left:121.5px;top:2224.0px;width:13.0px;height:13.0px;background:#f4f4f4;border-radius:50%;"></div>
<div class="b" style="left:-13px;top:2252px;width:152px;height:13.5px;background:#f4f4f4;border-radius:6.7px;"></div>
<div class="b" style="left:35px;top:2234px;width:42px;height:22px;background:#f4f4f4;border-radius:0px;"></div>
<div class="b" style="left:-45px;top:2238px;width:87px;height:14px;background:#fff;border-radius:7px;"></div>
<div class="b" style="left:70px;top:2238px;width:90px;height:14px;background:#fff;border-radius:7px;"></div>
<div class="t" style="font-size:28.7px;color:#3b8096;-webkit-text-stroke:0.62px #fff;left:28.76px;top:2289px;transform-origin:0 50%;transform:translateY(-50%) scaleX(0.9771);">HOW TO BURN</div>
<div class="t" style="font-size:33.4px;color:#3b8096;font-weight:700;left:30.67px;top:2321px;transform-origin:0 50%;transform:translateY(-50%) scaleX(0.9942);">THOSE CALORIES</div>
<div class="b" style="left:243.3px;top:2284.4px;width:14.4px;height:14.4px;background:#3b8096;border-radius:50%;"></div>
<div class="b" style="left:262.5px;top:2285px;width:400px;height:14.5px;background:#3b8096;border-radius:7.2px;"></div>
<div class="b" style="left:292px;top:2270px;width:400px;height:16px;background:#3b8096;border-radius:8px;"></div>
<div class="b" style="left:359.4px;top:2255.5px;width:300px;height:16px;background:#3b8096;border-radius:8px;"></div>
<div class="b" style="left:343.6px;top:2255.3px;width:14px;height:14px;background:#3b8096;border-radius:50%;"></div>
<div class="b" style="left:585px;top:2283px;width:80px;height:21.7px;background:#3b8096;border-radius:0px;"></div>
<div class="b" style="left:328.8px;top:2290.1000000000004px;width:14.4px;height:14.4px;background:#4ba7c0;border-radius:50%;"></div>
<div class="b" style="left:349px;top:2290.7px;width:248px;height:14px;background:#4ba7c0;border-radius:7px;"></div>
<div class="b" style="left:378.5px;top:2304.7px;width:240.5px;height:14px;background:#4ba7c0;border-radius:7px;"></div>
<div class="b" style="left:628.3px;top:2304.3px;width:14.4px;height:14.4px;background:#4ba7c0;border-radius:50%;"></div>
<div class="b" style="left:571.3px;top:2255.8px;width:14.4px;height:14.4px;background:#4ba7c0;border-radius:50%;"></div>
<div class="b" style="left:590.5px;top:2255.5px;width:80px;height:14.5px;background:#4ba7c0;border-radius:7.2px;"></div>
<div class="b" style="left:621.5px;top:2268px;width:50px;height:14.5px;background:#4ba7c0;border-radius:7.2px;"></div>
<div class="b" style="left:632px;top:2262px;width:30px;height:12px;background:#4ba7c0;border-radius:0px;"></div>
<div class="b" style="left:40.599999999999994px;top:2378px;width:82px;height:82px;background:#dddddd;border-radius:50%;"></div>
<svg class="b" style="left:20px;top:2355px;" width="140" height="120" viewBox="0 0 425 364">
<path d="M188 122 L138 130 L116 178" stroke="#c98a63" stroke-width="13" fill="none" stroke-linecap="round" stroke-linejoin="round"/>
<path d="M170 232 L128 258 L88 286" stroke="#c98a63" stroke-width="17" fill="none" stroke-linecap="round" stroke-linejoin="round"/>
<path d="M70 292 L92 276 L100 290 L86 318 L76 316Z" fill="#e9553d"/>
<path d="M215 218 L246 220 L200 288" stroke="#dba27c" stroke-width="18" fill="none" stroke-linecap="round" stroke-linejoin="round"/>
<path d="M186 284 L208 284 L200 322 L186 320Z" fill="#e9553d"/>
<path d="M162 184 L208 188 L236 214 L208 244 L152 236Z" fill="#2f9db3"/>
<path d="M186 114 L214 108 L224 126 L208 192 L162 186Z" fill="#e9553d"/>
<rect x="196" y="96" width="14" height="18" fill="#dba27c"/>
<circle cx="210" cy="85" r="17" fill="#dba27c"/>
<path d="M192 84 C190 66 208 60 224 70 L222 76 C214 72 206 76 204 90 C198 92 194 90 192 84Z" fill="#5e3d2c"/>
<path d="M216 126 L246 156 L290 122" stroke="#dba27c" stroke-width="12" fill="none" stroke-linecap="round" stroke-linejoin="round"/>
<path d="M258 134 L270 126 L280 140 L268 148Z" fill="#2f9db3"/>
<path d="M112 150 L128 152 L126 170 L110 168Z" fill="#2f9db3"/></svg>
<div class="t" style="font-size:20px;color:#868686;-webkit-text-stroke:0.39px #fff;left:81.85px;top:2492px;transform:translate(-50%,-50%) scaleX(1.0453);">Jogging</div>
<div class="t" style="font-size:19.5px;color:#666;font-weight:700;left:81.59px;top:2516px;transform:translate(-50%,-50%) scaleX(1.0724);">28 min</div>
<div class="b" style="left:202.6px;top:2378px;width:82px;height:82px;background:#dddddd;border-radius:50%;"></div>
<svg class="b" style="left:180px;top:2355px;" width="140" height="120" viewBox="0 0 425 364">
<path d="M196 56 C196 36 232 34 238 58 L246 100 L214 104 L216 80Z" fill="#5e3d2c"/>
<circle cx="213" cy="64" r="15" fill="#dba27c"/>
<rect x="208" y="76" width="12" height="16" fill="#dba27c"/>
<path d="M202 98 L236 96 L244 112 L240 150 L204 150Z" fill="#e9553d"/>
<path d="M208 106 L232 104 L242 180 L270 304 L248 308 L222 220 L210 304 L190 304 L198 180Z" fill="#2f9db3"/>
<path d="M206 100 L214 100 L216 130 L208 130Z M228 98 L236 98 L238 128 L230 128Z" fill="#2f9db3"/>
<path d="M184 94 L110 282" stroke="#2a2a2a" stroke-width="4" fill="none" stroke-linecap="round"/>
<path d="M70 270 L136 292 L130 312 L66 290Z" fill="#1d1d1d"/>
<path d="M210 110 L180 118 L172 124" stroke="#dba27c" stroke-width="10" fill="none" stroke-linecap="round" stroke-linejoin="round"/>
<path d="M226 116 L196 150 L160 162" stroke="#dba27c" stroke-width="10" fill="none" stroke-linecap="round" stroke-linejoin="round"/>
<path d="M226 104 L240 108 L236 132 L218 128Z" fill="#e9553d"/>
<path d="M176 302 L212 300 L212 312 L178 312Z M238 308 L270 302 L274 316 L242 320Z" fill="#2c3a4a"/></svg>
<div class="t" style="font-size:20px;color:#868686;-webkit-text-stroke:0.39px #fff;left:244.08px;top:2492px;transform:translate(-50%,-50%) scaleX(1.0470);">Cleaning</div>
<div class="t" style="font-size:19.5px;color:#666;font-weight:700;left:244.25px;top:2516px;transform:translate(-50%,-50%) scaleX(1.0957);">83 min</div>
<div class="b" style="left:365.4px;top:2378px;width:82px;height:82px;background:#dddddd;border-radius:50%;"></div>
<svg class="b" style="left:340px;top:2355px;" width="140" height="120" viewBox="0 0 425 364">
<path d="M168 232 L142 268" stroke="#dba27c" stroke-width="15" fill="none" stroke-linecap="round"/>
<path d="M206 222 L224 268" stroke="#dba27c" stroke-width="15" fill="none" stroke-linecap="round"/>
<path d="M136 262 L156 270 L140 312 L120 312 L122 300Z" fill="#e9553d"/>
<path d="M214 272 L234 270 L240 312 L258 318 L258 324 L224 322Z" fill="#e9553d"/>
<path d="M166 102 L204 100 L202 166 L162 166Z" fill="#dba27c"/>
<rect x="160" y="158" width="46" height="10" fill="#2a2a2a"/>
<path d="M158 168 L206 168 L224 214 L192 222 L186 196 L180 234 L148 228Z" fill="#e9553d"/>
<rect x="182" y="88" width="12" height="14" fill="#dba27c"/>
<circle cx="188" cy="76" r="15" fill="#dba27c"/>
<path d="M172 76 C170 58 190 52 204 62 L202 68 C194 64 186 68 184 82 C178 84 174 82 172 76Z" fill="#5e3d2c"/>
<path d="M204 112 L264 108" stroke="#dba27c" stroke-width="11" fill="none" stroke-linecap="round"/>
<ellipse cx="278" cy="104" rx="15" ry="12" fill="#e9553d"/>
<ellipse cx="188" cy="120" rx="10" ry="15" fill="#e9553d"/></svg>
<div class="t" style="font-size:20px;color:#868686;-webkit-text-stroke:0.39px #fff;left:407.57px;top:2492px;transform:translate(-50%,-50%) scaleX(1.0412);">Boxing</div>
<div class="t" style="font-size:19.5px;color:#666;font-weight:700;left:406.23px;top:2516px;transform:translate(-50%,-50%) scaleX(1.0442);">19 min</div>
<div class="b" style="left:527.3px;top:2378px;width:82px;height:82px;background:#dddddd;border-radius:50%;"></div>
<svg class="b" style="left:495px;top:2355px;" width="140" height="120" viewBox="0 0 425 364">
<path d="M294 106 L330 150 L340 200" stroke="#c98a63" stroke-width="9" fill="none" stroke-linecap="round" stroke-linejoin="round"/>
<path d="M290 232 L330 276 L350 296" stroke="#c98a63" stroke-width="14" fill="none" stroke-linecap="round" stroke-linejoin="round"/>
<path d="M336 296 L356 288 L362 298 L346 310Z" fill="#e9553d"/>
<path d="M252 232 L226 300" stroke="#dba27c" stroke-width="15" fill="none" stroke-linecap="round"/>
<path d="M198 306 L236 302 L236 312 L200 316Z" fill="#e9553d"/>
<path d="M254 40 C262 24 296 30 298 60 L318 96 L286 98 L280 70Z" fill="#5e3d2c"/>
<circle cx="268" cy="56" r="15" fill="#dba27c"/>
<rect x="264" y="68" width="12" height="18" fill="#dba27c"/>
<path d="M258 94 L294 92 L316 236 L234 230Z" fill="#e9553d"/>
<path d="M260 108 L226 150 L198 160" stroke="#dba27c" stroke-width="9" fill="none" stroke-linecap="round" stroke-linejoin="round"/>
<path d="M198 160 L96 268" stroke="#555" stroke-width="2.500" fill="none"/>
<path d="M56 262 C66 256 84 260 92 270 L160 278 C170 274 172 262 176 254 L180 258 C180 272 176 284 168 290 L168 312 L160 312 L156 296 L108 294 L106 312 L98 312 L94 292 C84 290 80 282 72 278 C62 278 56 272 56 262Z" fill="#2c3148"/>
<path d="M86 262 L96 266 L92 278 L84 274Z" fill="#e8473a"/></svg>
<div class="t" style="font-size:20px;color:#868686;-webkit-text-stroke:0.39px #fff;left:569.26px;top:2492px;transform:translate(-50%,-50%) scaleX(1.0209);">Pet Care</div>
<div class="t" style="font-size:19.5px;color:#666;font-weight:700;left:568.49px;top:2516px;transform:translate(-50%,-50%) scaleX(1.0384);">100 min</div>
<div class="b" style="left:-20px;top:2591.6px;width:333px;height:14px;background:#66b08d;border-radius:7px;"></div>
<div class="b" style="left:315px;top:2591.3px;width:14px;height:14px;background:#66b08d;border-radius:50%;"></div>
<div class="b" style="left:-20px;top:2605px;width:400.5px;height:16px;background:#66b08d;border-radius:8px;"></div>
<div class="b" style="left:-20px;top:2620px;width:430.5px;height:14.5px;background:#66b08d;border-radius:7.2px;"></div>
<div class="b" style="left:-20px;top:2591.6px;width:320px;height:43px;background:#66b08d;border-radius:0px;"></div>
<div class="b" style="left:416.1px;top:2619.6000000000004px;width:14.4px;height:14.4px;background:#66b08d;border-radius:50%;"></div>
<div class="b" style="left:26.400000000000002px;top:2619.6000000000004px;width:14.4px;height:14.4px;background:#7dc3a1;border-radius:50%;"></div>
<div class="b" style="left:45.5px;top:2620px;width:296px;height:14.5px;background:#7dc3a1;border-radius:7.2px;"></div>
<div class="b" style="left:345.5px;top:2619.8px;width:14px;height:14px;background:#7dc3a1;border-radius:50%;"></div>
<div class="b" style="left:76.6px;top:2632.5px;width:232.4px;height:14px;background:#7dc3a1;border-radius:7px;"></div>
<div class="t" style="font-size:44px;color:#47a87a;font-weight:700;right:28.62px;top:2592.6px;transform-origin:100% 50%;transform:translateY(-50%) scaleX(1.0427);">VITAMINS</div>
<div class="t" style="font-size:18px;color:#5fb48c;-webkit-text-stroke:0.28px #fff;right:29.20px;top:2627px;transform-origin:100% 50%;transform:translateY(-50%) scaleX(1.0122);">(% OF DAILY VALUE)</div>
<div class="b" style="left:71px;top:2694px;width:533px;height:1px;background:#dddddd;border-radius:0px;"></div>
<div class="t" style="font-size:22px;color:#7e7e7e;-webkit-text-stroke:0.49px #fff;right:587.74px;top:2694.5px;transform-origin:100% 50%;transform:translateY(-50%) scaleX(0.9000);">100</div>
<div class="b" style="left:71px;top:2729px;width:533px;height:1px;background:#dddddd;border-radius:0px;"></div>
<div class="t" style="font-size:22px;color:#7e7e7e;-webkit-text-stroke:0.49px #fff;right:587.76px;top:2729.7px;transform-origin:100% 50%;transform:translateY(-50%) scaleX(0.9000);">80</div>
<div class="b" style="left:71px;top:2764px;width:533px;height:1px;background:#dddddd;border-radius:0px;"></div>
<div class="t" style="font-size:22px;color:#7e7e7e;-webkit-text-stroke:0.49px #fff;right:587.76px;top:2764.9px;transform-origin:100% 50%;transform:translateY(-50%) scaleX(0.9000);">60</div>
<div class="b" style="left:71px;top:2800px;width:533px;height:1px;background:#dddddd;border-radius:0px;"></div>
<div class="t" style="font-size:22px;color:#7e7e7e;-webkit-text-stroke:0.49px #fff;right:587.76px;top:2800.1px;transform-origin:100% 50%;transform:translateY(-50%) scaleX(0.9000);">40</div>
<div class="b" style="left:71px;top:2835px;width:533px;height:1px;background:#dddddd;border-radius:0px;"></div>
<div class="t" style="font-size:22px;color:#7e7e7e;-webkit-text-stroke:0.49px #fff;right:587.76px;top:2835.3px;transform-origin:100% 50%;transform:translateY(-50%) scaleX(0.9000);">20</div>
<div class="b" style="left:71px;top:2870px;width:533px;height:1px;background:#bdbdbd;border-radius:0px;"></div>
<div class="t" style="font-size:22px;color:#7e7e7e;-webkit-text-stroke:0.49px #fff;right:587.78px;top:2870.5px;transform-origin:100% 50%;transform:translateY(-50%) scaleX(0.9000);">0</div>
<div class="b" style="left:71px;top:2694px;width:1px;height:177px;background:#c4c4c4;border-radius:0px;"></div>
<div class="b" style="left:84.8px;top:2848.88px;width:17px;height:21.62px;background:#6cba90;border-radius:0px;"></div>
<div class="t" style="font-size:23px;color:#5fae84;-webkit-text-stroke:0.55px #fff;left:93.08px;top:2832.38px;transform:translate(-50%,-50%) scaleX(0.8400);">12</div>
<div class="t" style="font-size:23px;color:#626262;-webkit-text-stroke:0.55px #fff;left:93.32px;top:2889.5px;transform:translate(-50%,-50%) scaleX(1.0000);">A</div>
<div class="b" style="left:129.28px;top:2848.88px;width:17px;height:21.62px;background:#6cba90;border-radius:0px;"></div>
<div class="t" style="font-size:23px;color:#5fae84;-webkit-text-stroke:0.55px #fff;left:137.56px;top:2832.38px;transform:translate(-50%,-50%) scaleX(0.8400);">12</div>
<div class="t" style="font-size:23px;color:#626262;-webkit-text-stroke:0.55px #fff;left:137.47px;top:2889.5px;transform:translate(-50%,-50%) scaleX(0.8600);">B1</div>
<div class="b" style="left:173.76px;top:2852.4px;width:17px;height:18.1px;background:#6cba90;border-radius:0px;"></div>
<div class="t" style="font-size:23px;color:#5fae84;-webkit-text-stroke:0.55px #fff;left:181.90px;top:2835.9px;transform:translate(-50%,-50%) scaleX(0.8400);">10</div>
<div class="t" style="font-size:23px;color:#626262;-webkit-text-stroke:0.55px #fff;left:181.99px;top:2889.5px;transform:translate(-50%,-50%) scaleX(0.8600);">B2</div>
<div class="b" style="left:218.24px;top:2826.0px;width:17px;height:44.5px;background:#6cba90;border-radius:0px;"></div>
<div class="t" style="font-size:23px;color:#5fae84;-webkit-text-stroke:0.55px #fff;left:226.66px;top:2809.5px;transform:translate(-50%,-50%) scaleX(0.9100);">25</div>
<div class="t" style="font-size:23px;color:#626262;-webkit-text-stroke:0.55px #fff;left:226.38px;top:2889.5px;transform:translate(-50%,-50%) scaleX(0.8600);">B3</div>
<div class="b" style="left:262.71999999999997px;top:2836.56px;width:17px;height:33.94px;background:#6cba90;border-radius:0px;"></div>
<div class="t" style="font-size:23px;color:#5fae84;-webkit-text-stroke:0.55px #fff;left:270.95px;top:2820.06px;transform:translate(-50%,-50%) scaleX(0.8400);">19</div>
<div class="t" style="font-size:23px;color:#626262;-webkit-text-stroke:0.55px #fff;left:270.86px;top:2889.5px;transform:translate(-50%,-50%) scaleX(0.8600);">B5</div>
<div class="b" style="left:307.2px;top:2855.92px;width:17px;height:14.58px;background:#6cba90;border-radius:0px;"></div>
<div class="t" style="font-size:23px;color:#5fae84;-webkit-text-stroke:0.55px #fff;left:315.66px;top:2839.42px;transform:translate(-50%,-50%) scaleX(1.0000);">8</div>
<div class="t" style="font-size:23px;color:#626262;-webkit-text-stroke:0.55px #fff;left:315.34px;top:2889.5px;transform:translate(-50%,-50%) scaleX(0.8600);">B6</div>
<div class="b" style="left:351.68px;top:2838.32px;width:17px;height:32.18px;background:#6cba90;border-radius:0px;"></div>
<div class="t" style="font-size:23px;color:#5fae84;-webkit-text-stroke:0.55px #fff;left:359.86px;top:2821.82px;transform:translate(-50%,-50%) scaleX(0.8400);">18</div>
<div class="t" style="font-size:23px;color:#626262;-webkit-text-stroke:0.55px #fff;left:359.87px;top:2889.5px;transform:translate(-50%,-50%) scaleX(0.8600);">B9</div>
<div class="b" style="left:396.15999999999997px;top:2855.92px;width:17px;height:14.58px;background:#6cba90;border-radius:0px;"></div>
<div class="t" style="font-size:23px;color:#5fae84;-webkit-text-stroke:0.55px #fff;left:404.62px;top:2839.42px;transform:translate(-50%,-50%) scaleX(1.0000);">8</div>
<div class="t" style="font-size:23px;color:#626262;-webkit-text-stroke:0.55px #fff;left:404.36px;top:2889.5px;transform:translate(-50%,-50%) scaleX(0.8600);">B12</div>
<div class="b" style="left:440.64px;top:2855.92px;width:17px;height:14.58px;background:#6cba90;border-radius:0px;"></div>
<div class="t" style="font-size:23px;color:#5fae84;-webkit-text-stroke:0.55px #fff;left:449.10px;top:2839.42px;transform:translate(-50%,-50%) scaleX(1.0000);">8</div>
<div class="t" style="font-size:23px;color:#626262;-webkit-text-stroke:0.55px #fff;left:448.99px;top:2889.5px;transform:translate(-50%,-50%) scaleX(1.0000);">C</div>
<div class="b" style="left:485.12px;top:2861.2px;width:17px;height:9.3px;background:#6cba90;border-radius:0px;"></div>
<div class="t" style="font-size:23px;color:#5fae84;-webkit-text-stroke:0.55px #fff;left:493.63px;top:2844.7px;transform:translate(-50%,-50%) scaleX(1.0000);">5</div>
<div class="t" style="font-size:23px;color:#626262;-webkit-text-stroke:0.55px #fff;left:493.24px;top:2889.5px;transform:translate(-50%,-50%) scaleX(1.0000);">D</div>
<div class="b" style="left:529.5999999999999px;top:2843.6px;width:17px;height:26.9px;background:#6cba90;border-radius:0px;"></div>
<div class="t" style="font-size:23px;color:#5fae84;-webkit-text-stroke:0.55px #fff;left:537.78px;top:2827.1px;transform:translate(-50%,-50%) scaleX(0.8400);">15</div>
<div class="t" style="font-size:23px;color:#626262;-webkit-text-stroke:0.55px #fff;left:537.66px;top:2889.5px;transform:translate(-50%,-50%) scaleX(1.0000);">E</div>
<div class="b" style="left:574.0799999999999px;top:2861.2px;width:17px;height:9.3px;background:#6cba90;border-radius:0px;"></div>
<div class="t" style="font-size:23px;color:#5fae84;-webkit-text-stroke:0.55px #fff;left:582.59px;top:2844.7px;transform:translate(-50%,-50%) scaleX(1.0000);">5</div>
<div class="t" style="font-size:23px;color:#626262;-webkit-text-stroke:0.55px #fff;left:581.80px;top:2889.5px;transform:translate(-50%,-50%) scaleX(1.0000);">K</div>
<div class="t" style="font-size:41.2px;color:#7c6be0;font-weight:700;left:30.41px;top:2977.3px;transform-origin:0 50%;transform:translateY(-50%) scaleX(1.0429);">MINERALS</div>
<div class="t" style="font-size:18px;color:#7c6be0;-webkit-text-stroke:0.28px #fff;left:30.41px;top:3010.5px;transform-origin:0 50%;transform:translateY(-50%) scaleX(1.0093);">(% OF DAILY VALUE)</div>
<div class="b" style="left:223.10000000000002px;top:3003.0px;width:14.4px;height:14.4px;background:#9b5df7;border-radius:50%;"></div>
<div class="b" style="left:242.2px;top:3003px;width:420px;height:15px;background:#9b5df7;border-radius:7.5px;"></div>
<div class="b" style="left:271.8px;top:2988.6px;width:420px;height:16px;background:#9b5df7;border-radius:8px;"></div>
<div class="b" style="left:343.2px;top:2974px;width:320px;height:16px;background:#9b5df7;border-radius:8px;"></div>
<div class="b" style="left:324.3px;top:2974px;width:14px;height:14px;background:#9b5df7;border-radius:50%;"></div>
<div class="b" style="left:313.8px;top:2996.8px;width:14.4px;height:14.4px;background:#c6a1fd;border-radius:50%;"></div>
<div class="b" style="left:362.3px;top:2983.5px;width:194.5px;height:15.5px;background:#c6a1fd;border-radius:7.7px;"></div>
<div class="b" style="left:333.9px;top:2996.4px;width:251.4px;height:15.6px;background:#c6a1fd;border-radius:7.8px;"></div>
<div class="b" style="left:370px;top:2992px;width:180px;height:8px;background:#c6a1fd;border-radius:0px;"></div>
<div class="b" style="left:591.0px;top:2997.0px;width:14.4px;height:14.4px;background:#c6a1fd;border-radius:50%;"></div>
<div class="b" style="left:71px;top:3076px;width:533px;height:1px;background:#dddddd;border-radius:0px;"></div>
<div class="t" style="font-size:22px;color:#7e7e7e;-webkit-text-stroke:0.49px #fff;right:587.74px;top:3076.5px;transform-origin:100% 50%;transform:translateY(-50%) scaleX(0.9000);">100</div>
<div class="b" style="left:71px;top:3112px;width:533px;height:1px;background:#dddddd;border-radius:0px;"></div>
<div class="t" style="font-size:22px;color:#7e7e7e;-webkit-text-stroke:0.49px #fff;right:587.76px;top:3112.1px;transform-origin:100% 50%;transform:translateY(-50%) scaleX(0.9000);">80</div>
<div class="b" style="left:71px;top:3147px;width:533px;height:1px;background:#dddddd;border-radius:0px;"></div>
<div class="t" style="font-size:22px;color:#7e7e7e;-webkit-text-stroke:0.49px #fff;right:587.76px;top:3147.7px;transform-origin:100% 50%;transform:translateY(-50%) scaleX(0.9000);">60</div>
<div class="b" style="left:71px;top:3183px;width:533px;height:1px;background:#dddddd;border-radius:0px;"></div>
<div class="t" style="font-size:22px;color:#7e7e7e;-webkit-text-stroke:0.49px #fff;right:587.76px;top:3183.3px;transform-origin:100% 50%;transform:translateY(-50%) scaleX(0.9000);">40</div>
<div class="b" style="left:71px;top:3218px;width:533px;height:1px;background:#dddddd;border-radius:0px;"></div>
<div class="t" style="font-size:22px;color:#7e7e7e;-webkit-text-stroke:0.49px #fff;right:587.76px;top:3218.9px;transform-origin:100% 50%;transform:translateY(-50%) scaleX(0.9000);">20</div>
<div class="b" style="left:71px;top:3254px;width:533px;height:1px;background:#bdbdbd;border-radius:0px;"></div>
<div class="t" style="font-size:22px;color:#7e7e7e;-webkit-text-stroke:0.49px #fff;right:587.78px;top:3254.5px;transform-origin:100% 50%;transform:translateY(-50%) scaleX(0.9000);">0</div>
<div class="b" style="left:71px;top:3076px;width:1px;height:179px;background:#c4c4c4;border-radius:0px;"></div>
<div class="b" style="left:92.5px;top:3239.76px;width:17px;height:14.74px;background:#7c6be0;border-radius:0px;"></div>
<div class="t" style="font-size:23px;color:#7567dc;-webkit-text-stroke:0.55px #fff;left:100.96px;top:3223.26px;transform:translate(-50%,-50%) scaleX(1.0000);">8</div>
<div class="t" style="font-size:23px;color:#626262;-webkit-text-stroke:0.55px #fff;left:100.51px;top:3273.5px;transform:translate(-50%,-50%) scaleX(0.9200);">Ca</div>
<div class="b" style="left:151.7px;top:3239.76px;width:17px;height:14.74px;background:#7c6be0;border-radius:0px;"></div>
<div class="t" style="font-size:23px;color:#7567dc;-webkit-text-stroke:0.55px #fff;left:160.16px;top:3223.26px;transform:translate(-50%,-50%) scaleX(1.0000);">8</div>
<div class="t" style="font-size:23px;color:#626262;-webkit-text-stroke:0.55px #fff;left:160.39px;top:3273.5px;transform:translate(-50%,-50%) scaleX(0.9200);">Cu</div>
<div class="b" style="left:210.9px;top:3227.3px;width:17px;height:27.2px;background:#7c6be0;border-radius:0px;"></div>
<div class="t" style="font-size:23px;color:#7567dc;-webkit-text-stroke:0.55px #fff;left:219.08px;top:3210.8px;transform:translate(-50%,-50%) scaleX(0.8400);">15</div>
<div class="t" style="font-size:23px;color:#626262;-webkit-text-stroke:0.55px #fff;left:219.05px;top:3273.5px;transform:translate(-50%,-50%) scaleX(0.9200);">Fe</div>
<div class="b" style="left:270.1px;top:3227.3px;width:17px;height:27.2px;background:#7c6be0;border-radius:0px;"></div>
<div class="t" style="font-size:23px;color:#7567dc;-webkit-text-stroke:0.55px #fff;left:278.28px;top:3210.8px;transform:translate(-50%,-50%) scaleX(0.8400);">15</div>
<div class="t" style="font-size:23px;color:#626262;-webkit-text-stroke:0.55px #fff;left:277.82px;top:3273.5px;transform:translate(-50%,-50%) scaleX(1.0000);">K</div>
<div class="b" style="left:329.3px;top:3239.76px;width:17px;height:14.74px;background:#7c6be0;border-radius:0px;"></div>
<div class="t" style="font-size:23px;color:#7567dc;-webkit-text-stroke:0.55px #fff;left:337.76px;top:3223.26px;transform:translate(-50%,-50%) scaleX(1.0000);">8</div>
<div class="t" style="font-size:23px;color:#626262;-webkit-text-stroke:0.55px #fff;left:337.63px;top:3273.5px;transform:translate(-50%,-50%) scaleX(0.9200);">Mg</div>
<div class="b" style="left:388.5px;top:3223.74px;width:17px;height:30.76px;background:#7c6be0;border-radius:0px;"></div>
<div class="t" style="font-size:23px;color:#7567dc;-webkit-text-stroke:0.55px #fff;left:396.78px;top:3207.24px;transform:translate(-50%,-50%) scaleX(0.8400);">17</div>
<div class="t" style="font-size:23px;color:#626262;-webkit-text-stroke:0.55px #fff;left:396.83px;top:3273.5px;transform:translate(-50%,-50%) scaleX(0.9200);">Mn</div>
<div class="b" style="left:447.70000000000005px;top:3227.3px;width:17px;height:27.2px;background:#7c6be0;border-radius:0px;"></div>
<div class="t" style="font-size:23px;color:#7567dc;-webkit-text-stroke:0.55px #fff;left:455.88px;top:3210.8px;transform:translate(-50%,-50%) scaleX(0.8400);">15</div>
<div class="t" style="font-size:23px;color:#626262;-webkit-text-stroke:0.55px #fff;left:455.88px;top:3273.5px;transform:translate(-50%,-50%) scaleX(1.0000);">P</div>
<div class="b" style="left:506.9000000000001px;top:3197.04px;width:17px;height:57.46px;background:#7c6be0;border-radius:0px;"></div>
<div class="t" style="font-size:23px;color:#7567dc;-webkit-text-stroke:0.55px #fff;left:515.53px;top:3180.54px;transform:translate(-50%,-50%) scaleX(0.9100);">32</div>
<div class="t" style="font-size:23px;color:#626262;-webkit-text-stroke:0.55px #fff;left:515.43px;top:3273.5px;transform:translate(-50%,-50%) scaleX(0.9200);">Se</div>
<div class="b" style="left:566.1px;top:3239.76px;width:17px;height:14.74px;background:#7c6be0;border-radius:0px;"></div>
<div class="t" style="font-size:23px;color:#7567dc;-webkit-text-stroke:0.55px #fff;left:574.56px;top:3223.26px;transform:translate(-50%,-50%) scaleX(1.0000);">8</div>
<div class="t" style="font-size:23px;color:#626262;-webkit-text-stroke:0.55px #fff;left:574.99px;top:3273.5px;transform:translate(-50%,-50%) scaleX(0.9200);">Zn</div>
<div class="b" style="left:-20px;top:3340.4px;width:302.7px;height:14.2px;background:#e9bf68;border-radius:7.1px;"></div>
<div class="b" style="left:286.6px;top:3340.8px;width:14px;height:14px;background:#e9bf68;border-radius:50%;"></div>
<div class="b" style="left:-20px;top:3354px;width:269px;height:15px;background:#e9bf68;border-radius:7.5px;"></div>
<div class="b" style="left:-20px;top:3345px;width:240px;height:16px;background:#e9bf68;border-radius:0px;"></div>
<div class="b" style="left:178px;top:3364px;width:22px;height:10px;background:#e9bf68;border-radius:0px;"></div>
<div class="b" style="left:-20px;top:3354.4px;width:213.5px;height:14.6px;background:#f6d98a;border-radius:7.3px;"></div>
<div class="b" style="left:195.9px;top:3355.5px;width:14px;height:14px;background:#f6d98a;border-radius:50%;"></div>
<div class="b" style="left:-20px;top:3368.8px;width:189px;height:14px;background:#f6d98a;border-radius:7px;"></div>
<div class="b" style="left:182.6px;top:3368.5px;width:16px;height:16px;background:#e9bf68;border-radius:50%;"></div>
<div class="t" style="font-size:41px;color:#e7be66;font-weight:700;right:28.90px;top:3357px;transform-origin:100% 50%;transform:translateY(-50%) scaleX(1.1070);">AMINO ACIDS</div>
<div class="t" style="font-size:18.5px;color:#ecc878;-webkit-text-stroke:0.30px #fff;right:29.63px;top:3390px;transform-origin:100% 50%;transform:translateY(-50%) scaleX(0.9774);">THESE ARE ESSENTIAL FOR YOUR BODY</div>
<div class="b" style="left:90.4px;top:3433px;width:24px;height:24px;background:#f6d98a;border-radius:50%;"></div>
<div class="b" style="left:43.50000000000001px;top:3474.7px;width:17.0px;height:17.0px;background:#f6d98a;border-radius:50%;"></div>
<div class="b" style="left:44.10000000000001px;top:3430.7px;width:66.6px;height:66.6px;background:#e9bf68;border-radius:50%;"></div>
<div class="t" style="font-size:22.5px;color:#fff;font-weight:700;left:77.25px;top:3459.2px;transform:translate(-50%,-50%) scaleX(0.9882);">0.21</div>
<div class="t" style="font-size:16px;color:#fff;-webkit-text-stroke:0.25px #e9bf68;left:77.61px;top:3476.2px;transform:translate(-50%,-50%) scaleX(1.0000);">g</div>
<div class="t" style="font-size:21.3px;color:#636363;-webkit-text-stroke:0.46px #fff;left:77.53px;top:3519.6px;transform:translate(-50%,-50%) scaleX(0.9896);">Histidine</div>
<div class="b" style="left:167.39999999999998px;top:3431.7px;width:19.6px;height:19.6px;background:#f6d98a;border-radius:50%;"></div>
<div class="b" style="left:217.2px;top:3469.0px;width:23.0px;height:23.0px;background:#f6d98a;border-radius:50%;"></div>
<div class="b" style="left:168.39999999999998px;top:3430.7px;width:66.6px;height:66.6px;background:#e9bf68;border-radius:50%;"></div>
<div class="t" style="font-size:22.5px;color:#fff;font-weight:700;left:201.64px;top:3459.2px;transform:translate(-50%,-50%) scaleX(1.0748);">0.3</div>
<div class="t" style="font-size:16px;color:#fff;-webkit-text-stroke:0.25px #e9bf68;left:201.91px;top:3476.2px;transform:translate(-50%,-50%) scaleX(1.0000);">g</div>
<div class="t" style="font-size:21.3px;color:#636363;-webkit-text-stroke:0.46px #fff;left:201.56px;top:3519.6px;transform:translate(-50%,-50%) scaleX(0.9809);">Isoleucine</div>
<div class="b" style="left:293.09999999999997px;top:3431.7px;width:19.6px;height:19.6px;background:#f6d98a;border-radius:50%;"></div>
<div class="b" style="left:340.59999999999997px;top:3433.2px;width:24.6px;height:24.6px;background:#f6d98a;border-radius:50%;"></div>
<div class="b" style="left:293.29999999999995px;top:3474.0px;width:17.0px;height:17.0px;background:#f6d98a;border-radius:50%;"></div>
<div class="b" style="left:294.09999999999997px;top:3430.7px;width:66.6px;height:66.6px;background:#e9bf68;border-radius:50%;"></div>
<div class="t" style="font-size:22.5px;color:#fff;font-weight:700;left:327.42px;top:3459.2px;transform:translate(-50%,-50%) scaleX(1.0795);">0.67</div>
<div class="t" style="font-size:16px;color:#fff;-webkit-text-stroke:0.25px #e9bf68;left:327.61px;top:3476.2px;transform:translate(-50%,-50%) scaleX(1.0000);">g</div>
<div class="t" style="font-size:21.3px;color:#636363;-webkit-text-stroke:0.46px #fff;left:325.56px;top:3519.6px;transform:translate(-50%,-50%) scaleX(0.9988);">Leucine</div>
<div class="b" style="left:468.4px;top:3432.5px;width:25.0px;height:25.0px;background:#f6d98a;border-radius:50%;"></div>
<div class="b" style="left:418.5px;top:3473.0px;width:17.0px;height:17.0px;background:#f6d98a;border-radius:50%;"></div>
<div class="b" style="left:419.09999999999997px;top:3430.7px;width:66.6px;height:66.6px;background:#e9bf68;border-radius:50%;"></div>
<div class="t" style="font-size:22.5px;color:#fff;font-weight:700;left:452.35px;top:3459.2px;transform:translate(-50%,-50%) scaleX(1.1171);">0.33</div>
<div class="t" style="font-size:16px;color:#fff;-webkit-text-stroke:0.25px #e9bf68;left:452.61px;top:3476.2px;transform:translate(-50%,-50%) scaleX(1.0000);">g</div>
<div class="t" style="font-size:21.3px;color:#636363;-webkit-text-stroke:0.46px #fff;left:450.27px;top:3519.6px;transform:translate(-50%,-50%) scaleX(0.9924);">Lysine</div>
<div class="b" style="left:543.1px;top:3432.7px;width:19.6px;height:19.6px;background:#f6d98a;border-radius:50%;"></div>
<div class="b" style="left:543.9px;top:3475.9px;width:15.0px;height:15.0px;background:#f6d98a;border-radius:50%;"></div>
<div class="b" style="left:594.9px;top:3472.5px;width:18px;height:18px;background:#f6d98a;border-radius:50%;"></div>
<div class="b" style="left:544.1px;top:3430.7px;width:66.6px;height:66.6px;background:#e9bf68;border-radius:50%;"></div>
<div class="t" style="font-size:22.5px;color:#fff;font-weight:700;left:577.36px;top:3459.2px;transform:translate(-50%,-50%) scaleX(1.0220);">0.16</div>
<div class="t" style="font-size:16px;color:#fff;-webkit-text-stroke:0.25px #e9bf68;left:577.61px;top:3476.2px;transform:translate(-50%,-50%) scaleX(1.0000);">g</div>
<div class="t" style="font-size:21.3px;color:#636363;-webkit-text-stroke:0.46px #fff;left:574.65px;top:3519.6px;transform:translate(-50%,-50%) scaleX(1.0148);">Methionine</div>
<div class="b" style="left:90.60000000000001px;top:3562.7px;width:24.6px;height:24.6px;background:#f6d98a;border-radius:50%;"></div>
<div class="b" style="left:43.50000000000001px;top:3604.2px;width:17.0px;height:17.0px;background:#f6d98a;border-radius:50%;"></div>
<div class="b" style="left:44.10000000000001px;top:3560.2px;width:66.6px;height:66.6px;background:#e9bf68;border-radius:50%;"></div>
<div class="t" style="font-size:22.5px;color:#fff;font-weight:700;left:76.98px;top:3588.7px;transform:translate(-50%,-50%) scaleX(1.0673);">0.4</div>
<div class="t" style="font-size:16px;color:#fff;-webkit-text-stroke:0.25px #e9bf68;left:77.61px;top:3605.7px;transform:translate(-50%,-50%) scaleX(1.0000);">g</div>
<div class="t" style="font-size:21.3px;color:#636363;-webkit-text-stroke:0.46px #fff;left:77.56px;top:3649.1px;transform:translate(-50%,-50%) scaleX(0.9916);">Phenylalanine</div>
<div class="b" style="left:167.39999999999998px;top:3561.2px;width:19.6px;height:19.6px;background:#f6d98a;border-radius:50%;"></div>
<div class="b" style="left:217.2px;top:3598.5px;width:23.0px;height:23.0px;background:#f6d98a;border-radius:50%;"></div>
<div class="b" style="left:168.39999999999998px;top:3560.2px;width:66.6px;height:66.6px;background:#e9bf68;border-radius:50%;"></div>
<div class="t" style="font-size:22.5px;color:#fff;font-weight:700;left:201.65px;top:3588.7px;transform:translate(-50%,-50%) scaleX(1.1171);">0.29</div>
<div class="t" style="font-size:16px;color:#fff;-webkit-text-stroke:0.25px #e9bf68;left:201.91px;top:3605.7px;transform:translate(-50%,-50%) scaleX(1.0000);">g</div>
<div class="t" style="font-size:21.3px;color:#636363;-webkit-text-stroke:0.46px #fff;left:199.68px;top:3649.1px;transform:translate(-50%,-50%) scaleX(0.9464);">Threonine</div>
<div class="b" style="left:293.09999999999997px;top:3561.2px;width:19.6px;height:19.6px;background:#f6d98a;border-radius:50%;"></div>
<div class="b" style="left:342.4px;top:3601.0px;width:23.0px;height:23.0px;background:#f6d98a;border-radius:50%;"></div>
<div class="b" style="left:294.09999999999997px;top:3560.2px;width:66.6px;height:66.6px;background:#e9bf68;border-radius:50%;"></div>
<div class="t" style="font-size:22.5px;color:#fff;font-weight:700;left:327.29px;top:3588.7px;transform:translate(-50%,-50%) scaleX(1.1141);">0.08</div>
<div class="t" style="font-size:16px;color:#fff;-webkit-text-stroke:0.25px #e9bf68;left:327.61px;top:3605.7px;transform:translate(-50%,-50%) scaleX(1.0000);">g</div>
<div class="t" style="font-size:21.3px;color:#636363;-webkit-text-stroke:0.46px #fff;left:326.99px;top:3649.1px;transform:translate(-50%,-50%) scaleX(0.9846);">Tryptophan</div>
<div class="b" style="left:418.09999999999997px;top:3561.2px;width:19.6px;height:19.6px;background:#f6d98a;border-radius:50%;"></div>
<div class="b" style="left:465.59999999999997px;top:3562.7px;width:24.6px;height:24.6px;background:#f6d98a;border-radius:50%;"></div>
<div class="b" style="left:418.5px;top:3604.0px;width:17.0px;height:17.0px;background:#f6d98a;border-radius:50%;"></div>
<div class="b" style="left:419.09999999999997px;top:3560.2px;width:66.6px;height:66.6px;background:#e9bf68;border-radius:50%;"></div>
<div class="t" style="font-size:22.5px;color:#fff;font-weight:700;left:452.35px;top:3588.7px;transform:translate(-50%,-50%) scaleX(1.1171);">0.36</div>
<div class="t" style="font-size:16px;color:#fff;-webkit-text-stroke:0.25px #e9bf68;left:452.61px;top:3605.7px;transform:translate(-50%,-50%) scaleX(1.0000);">g</div>
<div class="t" style="font-size:21.3px;color:#636363;-webkit-text-stroke:0.46px #fff;left:450.43px;top:3649.1px;transform:translate(-50%,-50%) scaleX(0.9973);">Valine</div>
<div class="b" style="left:525px;top:3581px;width:150px;height:14px;background:#f4f4f4;border-radius:7px;"></div>
<div class="b" style="left:549px;top:3609px;width:130px;height:14px;background:#f4f4f4;border-radius:7px;"></div>
<div class="b" style="left:587px;top:3589px;width:44px;height:26px;background:#f4f4f4;border-radius:0px;"></div>
<div class="b" style="left:511px;top:3595px;width:83px;height:14px;background:#fff;border-radius:7px;"></div>
<div class="b" style="left:624px;top:3595px;width:60px;height:14px;background:#fff;border-radius:7px;"></div>
<div class="b" style="left:529px;top:3610px;width:12px;height:12px;background:#f4f4f4;border-radius:50%;"></div>
<svg class="b" style="left:0px;top:3683px;" width="650" height="50" viewBox="0 320 650 50">
<path d="M0 334.5 C20 336 35 339 46 340 C80 344 120 347 160 347 C200 347 225 341 249 338 C290 333 330 331 363 331 C400 331 430 335 459 338 C500 343 540 347 580 346 C610 344 630 338 650 335 L650 370 L0 370Z" fill="#e2aa9d"/>
<path d="M0 344 C50 338 95 330.5 141 330.5 C185 330.5 215 334 249 338 C280 342 310 346 340 346 C385 346 420 342 459 338 C495 334 520 331 550 331 C590 331 620 334 650 337 L650 370 L0 370Z" fill="#bd8577"/>
</svg>
<div class="b" style="left:0px;top:3730px;width:650px;height:214px;background:#bd8577;border-radius:0px;"></div>
<svg class="b" style="left:245px;top:3715px;" width="160" height="50" viewBox="0 0 425 133">
<path d="M72 112 C50 92 30 78 30 60 C30 46 40 39 50 39 C60 39 68 46 72 56 C75 49 80 44 86 41" stroke="#fff" stroke-width="5.500" fill="none" stroke-linecap="round" stroke-linejoin="round"/>
<path d="M72 112 C92 96 110 84 114 66" stroke="#fff" stroke-width="5.500" fill="none" stroke-linecap="round"/>
<path d="M88 58 C84 40 100 22 130 18 C130 44 112 62 90 60Z" fill="#fff"/>
<path d="M90 58 C100 44 112 32 126 22" stroke="#bd8577" stroke-width="2" fill="none"/></svg>
<div class="t" style="font-size:35px;color:#fff;letter-spacing:1.2px;-webkit-text-stroke:0.95px #bd8577;left:302.95px;top:3742.6px;transform-origin:0 50%;transform:translateY(-50%) scaleX(1.0326);">inlivo</div>
<div class="t" style="font-size:16px;color:#fff;-webkit-text-stroke:0.17px #bd8577;left:324.90px;top:3774.6px;transform:translate(-50%,-50%) scaleX(1.0038);">Nutrition Tracker &amp; Health Coach</div>
<div class="t" style="font-size:15.5px;color:#fff;letter-spacing:1.2px;-webkit-text-stroke:0.30px #bd8577;left:326.30px;top:3793px;transform:translate(-50%,-50%) scaleX(1.1764);">www.inlivo.com</div>
<div class="b" style="left:254px;top:3801px;width:142px;height:1px;background:rgba(255,255,255,.9);border-radius:0px;"></div>
<div class="t" style="font-size:13px;color:#fff;left:324.91px;top:3822px;transform:translate(-50%,-50%) scaleX(1.0610);">Nothing contained in this presentation and our services is intended or implied</div>
<div class="t" style="font-size:13px;color:#fff;left:325.54px;top:3841px;transform:translate(-50%,-50%) scaleX(1.0546);">to be a medical advice, diagnosis or treatment.</div>
<svg class="b" style="left:270px;top:3850px;" width="110" height="80" viewBox="0 0 425 309">
<path d="M92 128 L92 54 Q92 45 101 45 L289 45 Q298 45 298 54 L298 92 L285 92 L285 62 L105 62 L105 128Z" fill="#fff"/>
<path d="M130 160 L248 160 L248 180 Q248 186 242 186 L136 186 Q130 186 130 180Z" fill="#fff"/>
<circle cx="190" cy="173" r="4" fill="#bd8577"/>
<path d="M174 190 L216 190 L224 212 L166 212Z" fill="#fff"/>
<rect x="72" y="125" width="50" height="93" rx="7" fill="#fff"/>
<rect x="80" y="140" width="34" height="60" fill="#bd8577"/>
<circle cx="97" cy="209" r="4" fill="#bd8577"/>
<rect x="262" y="88" width="95" height="127" rx="8" fill="#fff"/>
<rect x="275" y="103" width="69" height="87" fill="#bd8577"/>
<circle cx="294" cy="203" r="3.500" fill="#bd8577"/><circle cx="309" cy="203" r="3.500" fill="#bd8577"/><circle cx="324" cy="203" r="3.500" fill="#bd8577"/></svg>
<div class="t" style="font-size:12.5px;color:#f0dcd6;font-weight:700;left:325.08px;top:3918.6px;transform:translate(-50%,-50%) scaleX(1.0719);">Available on your desktop, tablet and mobile phone</div>
</body></html>
